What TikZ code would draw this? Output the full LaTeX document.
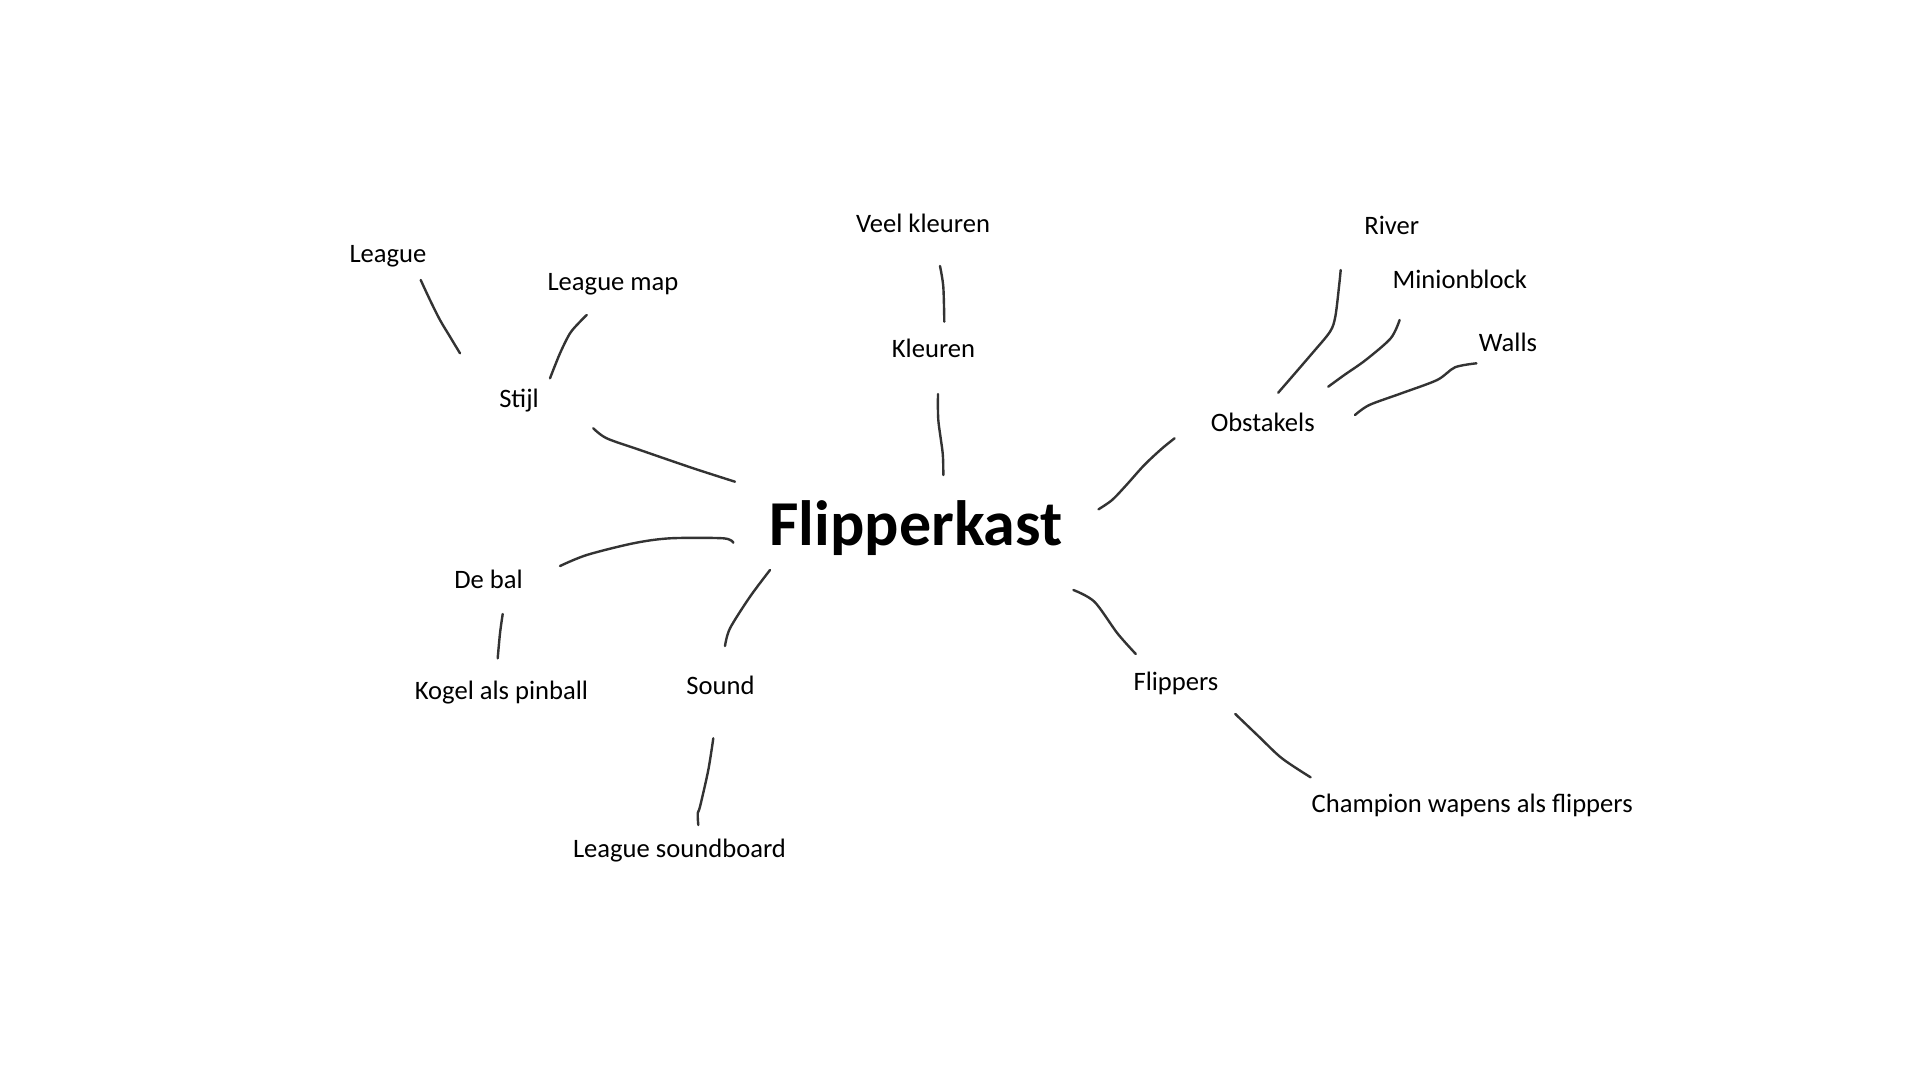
\documentclass[tikz,border=0pt]{standalone}
\usepackage{fontspec}
\setmainfont{Carlito}
\tikzset{
  lbl/.style={anchor=base, inner sep=0pt, font=\fontsize{26.6}{32}\selectfont},
  title/.style={anchor=base, inner sep=0pt, font=\fontsize{64}{76}\selectfont\bfseries},
  conn/.style={draw=black!80, line width=2.4pt, line cap=round, line join=round}
}
\begin{document}
\begin{tikzpicture}[x=1pt,y=-1pt]
\useasboundingbox[fill=white] (0,0) rectangle (1920,1080);
% nodes
\node[title] (flip) at (916,545) {Flipperkast};
\node[lbl] (league) at (388,262) {League};
\node[lbl] (leaguemap) at (613,290) {League map};
\node[lbl] (stijl) at (519,407) {Stijl};
\node[lbl] (veel) at (923,232) {Veel kleuren};
\node[lbl] (kleuren) at (933.5,357) {Kleuren};
\node[lbl] (river) at (1391.8,234) {River};
\node[lbl] (minion) at (1459.8,288) {Minionblock};
\node[lbl] (walls) at (1508,351) {Walls};
\node[lbl] (obst) at (1262.7,431) {Obstakels};
\node[lbl] (debal) at (488.5,588) {De bal};
\node[lbl] (kogel) at (501.5,699) {Kogel als pinball};
\node[lbl] (sound) at (720.5,694) {Sound};
\node[lbl] (soundboard) at (679.5,857) {League soundboard};
\node[lbl] (flippers) at (1176,690) {Flippers};
\node[lbl] (champ) at (1472.2,812) {Champion wapens als flippers};
% connector end points
\coordinate (a1) at (420.7,280);   \coordinate (a2) at (460,353.3);
\coordinate (b1) at (550,378.3);   \coordinate (b2) at (586.7,315);
\coordinate (c1) at (593.3,428.3); \coordinate (c2) at (735,481.7);
\coordinate (d1) at (560,566);     \coordinate (d2) at (733.3,542.7);
\coordinate (e1) at (502.7,614);   \coordinate (e2) at (497.7,658.3);
\coordinate (f1) at (770,570);     \coordinate (f2) at (725,646);
\coordinate (g1) at (713.3,738.3); \coordinate (g2) at (698.3,825);
\coordinate (h1) at (940,266);     \coordinate (h2) at (944.3,321.7);
\coordinate (i1) at (938,394);     \coordinate (i2) at (943.3,475);
\coordinate (j1) at (1174.6,438.3);\coordinate (j2) at (1098.5,509.3);
\coordinate (k1) at (1340.7,270);  \coordinate (k2) at (1278.2,392.7);
\coordinate (l1) at (1399.6,320);  \coordinate (l2) at (1328.2,386.7);
\coordinate (m1) at (1476.4,363.3);\coordinate (m2) at (1355,415);
\coordinate (n1) at (1073.4,590);  \coordinate (n2) at (1135.8,654);
\coordinate (o1) at (1235.3,714);  \coordinate (o2) at (1310.6,777.3);
% connectors
\draw[conn] plot[smooth,tension=0.5] coordinates {(a1) (430,300) (440,320) (450,336.7) (a2)};
\draw[conn] plot[smooth,tension=0.5] coordinates {(b1) (560,353.3) (570,333.3) (580,321.7) (b2)};
\draw[conn] plot[smooth,tension=0.5] coordinates {(c1) (606.7,438.3) (640,450) (693.3,468.3) (c2)};
\draw[conn] plot[smooth,tension=0.5] coordinates {(d1) (586.7,555) (633.3,543.3) (670,538.3) (723.3,538.3) (d2)};
\draw[conn] plot[smooth,tension=0.5] coordinates {(e1) (500,633.3) (e2)};
\draw[conn] plot[smooth,tension=0.5] coordinates {(f1) (750,596.7) (730,628.3) (f2)};
\draw[conn] plot[smooth,tension=0.5] coordinates {(g1) (708.3,770) (700,806.7) (697.7,813.3) (g2)};
\draw[conn] plot[smooth,tension=0.5] coordinates {(h1) (943.3,286.7) (h2)};
\draw[conn] plot[smooth,tension=0.5] coordinates {(i1) (938.3,420) (942.7,453.3) (i2)};
\draw[conn] plot[smooth,tension=0.5] coordinates {(j1) (1162.2,448.3) (1144.3,465) (1126.4,485) (1112.1,500) (j2)};
\draw[conn] plot[smooth,tension=0.5] coordinates {(k1) (1339,286.7) (1335.3,316.7) (1330,331.7) (1312.2,353.3) (k2)};
\draw[conn] plot[smooth,tension=0.5] coordinates {(l1) (1390.7,338.3) (1365.7,360) (1344.3,375) (l2)};
\draw[conn] plot[smooth,tension=0.5] coordinates {(m1) (1455,367.3) (1437.1,380) (1401.4,393.3) (1369.3,405) (m2)};
\draw[conn] plot[smooth,tension=0.5] coordinates {(n1) (1094.4,601.7) (1117.4,633.3) (n2)};
\draw[conn] plot[smooth,tension=0.5] coordinates {(o1) (1259,736.7) (1281.9,758.3) (o2)};
\end{tikzpicture}
\end{document}
